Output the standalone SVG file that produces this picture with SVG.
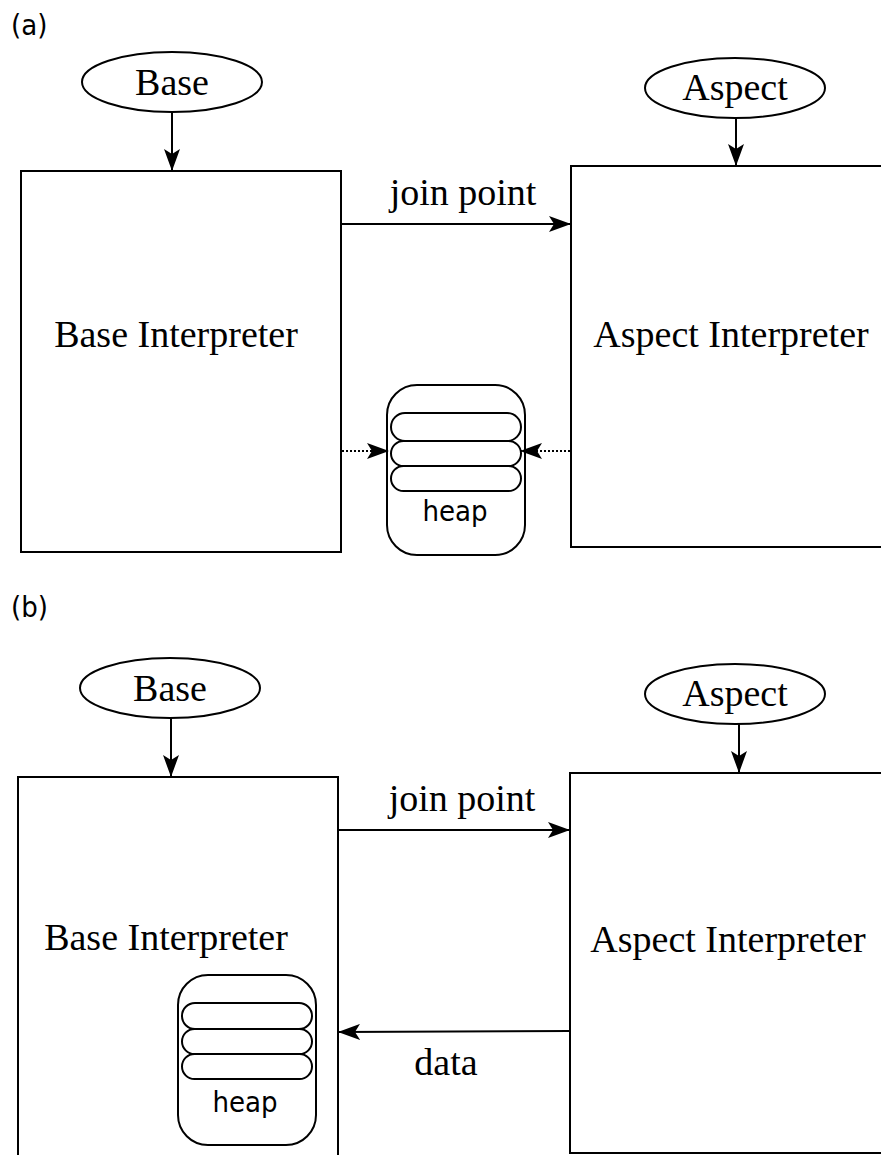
<svg xmlns="http://www.w3.org/2000/svg" width="881" height="1155" viewBox="0 0 881 1155">
<style>
.box{fill:#fff;stroke:#000;stroke-width:2}
.ln{fill:none;stroke:#000;stroke-width:2}
.dot{fill:none;stroke:#000;stroke-width:2;stroke-dasharray:2 2}
.serif{font-family:"Liberation Serif","DejaVu Serif",serif;fill:#000;font-size:38px}
.sans{font-family:"DejaVu Sans Condensed","DejaVu Sans","Liberation Sans",sans-serif;font-stretch:condensed;fill:#000;font-size:29px}
</style>
<defs>
<marker id="ah" markerWidth="22" markerHeight="16" refX="21" refY="8" orient="auto" markerUnits="userSpaceOnUse">
<path d="M0,0 L22,8 L0,16 L5,8 Z" fill="#000"/>
</marker>
</defs>
<rect width="881" height="1155" fill="#fff"/>
<text class="sans" x="11" y="35">(a)</text>
<text class="sans" x="11" y="617">(b)</text>

<g id="a-base">
<ellipse class="box" cx="172" cy="82" rx="90" ry="30"/>
<text class="serif" x="172" y="95" text-anchor="middle">Base</text>
</g>
<g id="a-aspect">
<ellipse class="box" cx="735" cy="88" rx="90" ry="30"/>
<text class="serif" x="735" y="100" text-anchor="middle">Aspect</text>
</g>
<g id="a-base-interp">
<rect class="box" x="21" y="171" width="320" height="381"/>
<text class="serif" x="176" y="347" text-anchor="middle">Base Interpreter</text>
</g>
<g id="a-aspect-interp">
<rect class="box" x="571" y="166" width="330" height="381"/>
<text class="serif" x="731" y="347" text-anchor="middle">Aspect Interpreter</text>
</g>
<g id="a-heap">
<rect class="box" x="387" y="385" width="138" height="170" rx="30"/>
<rect class="box" x="391" y="413" width="130" height="28" rx="14"/>
<rect class="box" x="391" y="441" width="130" height="25" rx="12.5"/>
<rect class="box" x="391" y="466" width="130" height="25" rx="12.5"/>
<text class="sans" x="455" y="521" text-anchor="middle">heap</text>
</g>

<g id="b-base">
<ellipse class="box" cx="170" cy="688" rx="90" ry="30"/>
<text class="serif" x="170" y="701" text-anchor="middle">Base</text>
</g>
<g id="b-aspect">
<ellipse class="box" cx="735" cy="694" rx="90" ry="30"/>
<text class="serif" x="735" y="706" text-anchor="middle">Aspect</text>
</g>
<g id="b-base-interp">
<rect class="box" x="18" y="777" width="320" height="400"/>
<text class="serif" x="166" y="950" text-anchor="middle">Base Interpreter</text>
</g>
<g id="b-aspect-interp">
<rect class="box" x="570" y="773" width="330" height="380"/>
<text class="serif" x="728" y="952" text-anchor="middle">Aspect Interpreter</text>
</g>
<g id="b-heap">
<rect class="box" x="178" y="975" width="138" height="170" rx="30"/>
<rect class="box" x="182" y="1003" width="130" height="26" rx="13"/>
<rect class="box" x="182" y="1029" width="130" height="25" rx="12.5"/>
<rect class="box" x="182" y="1054" width="130" height="25" rx="12.5"/>
<text class="sans" x="245" y="1112" text-anchor="middle">heap</text>
</g>

<g id="connectors">
<line class="ln" x1="172" y1="112" x2="172" y2="170" marker-end="url(#ah)"/>
<line class="ln" x1="736" y1="118" x2="736" y2="165" marker-end="url(#ah)"/>
<line class="ln" x1="341" y1="224" x2="570" y2="224" marker-end="url(#ah)"/>
<text class="serif" x="463" y="205" text-anchor="middle">join point</text>
<line class="dot" x1="342" y1="451" x2="388" y2="451" marker-end="url(#ah)"/>
<line class="dot" x1="570" y1="451" x2="521" y2="451" marker-end="url(#ah)"/>

<line class="ln" x1="171" y1="718" x2="171" y2="776" marker-end="url(#ah)"/>
<line class="ln" x1="739" y1="724" x2="739" y2="772" marker-end="url(#ah)"/>
<line class="ln" x1="338" y1="830" x2="569" y2="830" marker-end="url(#ah)"/>
<text class="serif" x="462" y="811" text-anchor="middle">join point</text>
<line class="ln" x1="570" y1="1031" x2="339" y2="1032" marker-end="url(#ah)"/>
<text class="serif" x="446" y="1075" text-anchor="middle">data</text>
</g>
</svg>
